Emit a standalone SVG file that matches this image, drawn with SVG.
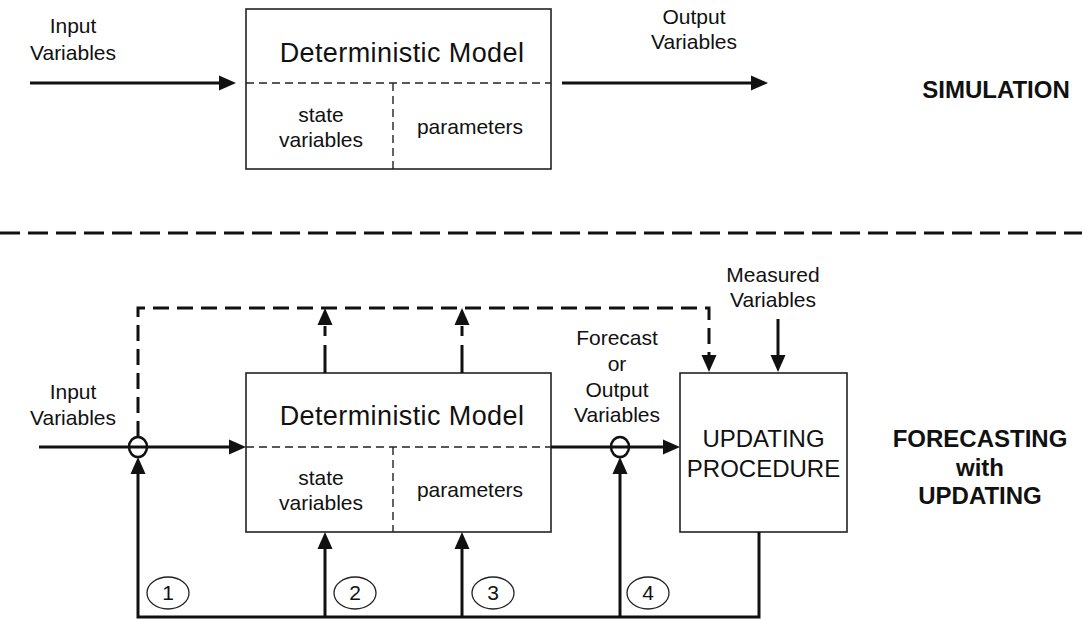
<svg xmlns="http://www.w3.org/2000/svg" xmlns:xlink="http://www.w3.org/1999/xlink" width="1082" height="619" viewBox="0 0 1082 619">
<style>
text{font-family:"Liberation Sans",Arial,sans-serif;fill:#111;text-anchor:middle}
.s{font-size:21px}
.m{font-size:27px;letter-spacing:0.4px}
.u{font-size:24px}
.b{font-size:24px;font-weight:bold}
.box{fill:#fff;stroke:#222;stroke-width:1.6}
.div{fill:none;stroke:#222;stroke-width:1.4;stroke-dasharray:8 5}
.w{fill:none;stroke:#111;stroke-width:3}
.dw{fill:none;stroke:#111;stroke-width:3;stroke-dasharray:16 8}
.sep{fill:none;stroke:#111;stroke-width:3;stroke-dasharray:20 8}
.jn{fill:#fff;stroke:#111;stroke-width:2.5}
.num{fill:none;stroke:#222;stroke-width:1.3}
</style>
<defs>
<path id="ah" d="M0,0 L-17,-7.5 L-17,7.5 Z" fill="#111"/>
</defs>

<!-- SIMULATION section -->
<g id="sim-model">
<rect class="box" x="246" y="9" width="305" height="160"/>
<line class="div" x1="246" y1="83" x2="551" y2="83"/>
<line class="div" x1="393" y1="83" x2="393" y2="169"/>
<text class="m" x="402" y="62">Deterministic Model</text>
<text class="s" x="321" y="122">state</text>
<text class="s" x="321" y="147">variables</text>
<text class="s" x="470" y="134">parameters</text>
</g>
<g id="sim-labels">
<text class="s" x="73" y="33">Input</text>
<text class="s" x="73" y="60">Variables</text>
<text class="s" x="694" y="24">Output</text>
<text class="s" x="694" y="49">Variables</text>
<text class="b" x="996" y="98">SIMULATION</text>
</g>

<line id="separator" class="sep" x1="0" y1="233" x2="1082" y2="233"/>

<!-- FORECASTING section -->
<g id="fc-model">
<rect class="box" x="246" y="373" width="305" height="159"/>
<line class="div" x1="246" y1="447" x2="551" y2="447"/>
<line class="div" x1="393" y1="447" x2="393" y2="532"/>
<text class="m" x="402" y="425">Deterministic Model</text>
<text class="s" x="321" y="485">state</text>
<text class="s" x="321" y="510">variables</text>
<text class="s" x="470" y="497">parameters</text>
</g>
<g id="updating">
<rect class="box" x="680" y="373" width="167" height="159"/>
<text class="u" x="763.5" y="447">UPDATING</text>
<text class="u" x="763.5" y="477">PROCEDURE</text>
</g>
<g id="fc-labels">
<text class="s" x="73" y="399">Input</text>
<text class="s" x="73" y="425">Variables</text>
<text class="s" x="617" y="345">Forecast</text>
<text class="s" x="617" y="371">or</text>
<text class="s" x="617" y="397">Output</text>
<text class="s" x="617" y="422">Variables</text>
<text class="s" x="773" y="282">Measured</text>
<text class="s" x="773" y="307">Variables</text>
<text class="b" x="980" y="447">FORECASTING</text>
<text class="b" x="980" y="476">with</text>
<text class="b" x="980" y="504">UPDATING</text>
</g>
<g id="num1"><ellipse class="num" cx="168" cy="593" rx="21" ry="16"/><text class="s" x="168" y="600">1</text></g>
<g id="num2"><ellipse class="num" cx="355" cy="593" rx="21" ry="16"/><text class="s" x="355" y="600">2</text></g>
<g id="num3"><ellipse class="num" cx="493" cy="593" rx="21" ry="16"/><text class="s" x="493" y="600">3</text></g>
<g id="num4"><ellipse class="num" cx="648" cy="593" rx="21" ry="16"/><text class="s" x="648" y="600">4</text></g>

<g id="connectors">
<!-- simulation arrows -->
<line class="w" x1="30" y1="83" x2="220" y2="83"/>
<use xlink:href="#ah" transform="translate(236,83)"/>
<line class="w" x1="562" y1="83" x2="752" y2="83"/>
<use xlink:href="#ah" transform="translate(768,83)"/>

<!-- input line with junction -->
<line class="w" x1="39" y1="447" x2="230" y2="447"/>
<use xlink:href="#ah" transform="translate(246,447)"/>
<!-- model to updating -->
<line class="w" x1="551" y1="447" x2="664" y2="447"/>
<use xlink:href="#ah" transform="translate(680,447)"/>

<!-- dashed loop -->
<path class="dw" d="M138,437 V308 H709 V355"/>
<use xlink:href="#ah" transform="translate(709,372) rotate(90)"/>
<!-- dashed up arrows from model -->
<line class="dw" x1="325" y1="373" x2="325" y2="326" style="stroke-dasharray:28 9"/>
<use xlink:href="#ah" transform="translate(325,308) rotate(-90)"/>
<line class="dw" x1="462" y1="373" x2="462" y2="326" style="stroke-dasharray:28 9"/>
<use xlink:href="#ah" transform="translate(462,308) rotate(-90)"/>
<!-- measured -->
<line class="w" x1="778" y1="319" x2="778" y2="356"/>
<use xlink:href="#ah" transform="translate(778,372) rotate(90)"/>

<!-- feedback bottom -->
<path class="w" d="M138,474 V617 H759 V532"/>
<use xlink:href="#ah" transform="translate(138,457) rotate(-90)"/>
<line class="w" x1="325" y1="617" x2="325" y2="549"/>
<use xlink:href="#ah" transform="translate(325,532) rotate(-90)"/>
<line class="w" x1="462" y1="617" x2="462" y2="549"/>
<use xlink:href="#ah" transform="translate(462,532) rotate(-90)"/>
<line class="w" x1="620" y1="617" x2="620" y2="474"/>
<use xlink:href="#ah" transform="translate(620,457) rotate(-90)"/>

<!-- junctions -->
<ellipse class="jn" cx="138" cy="447" rx="9" ry="10" style="fill:none"/>
<ellipse class="jn" cx="620" cy="447" rx="9" ry="10" style="fill:none"/>
</g>
</svg>
